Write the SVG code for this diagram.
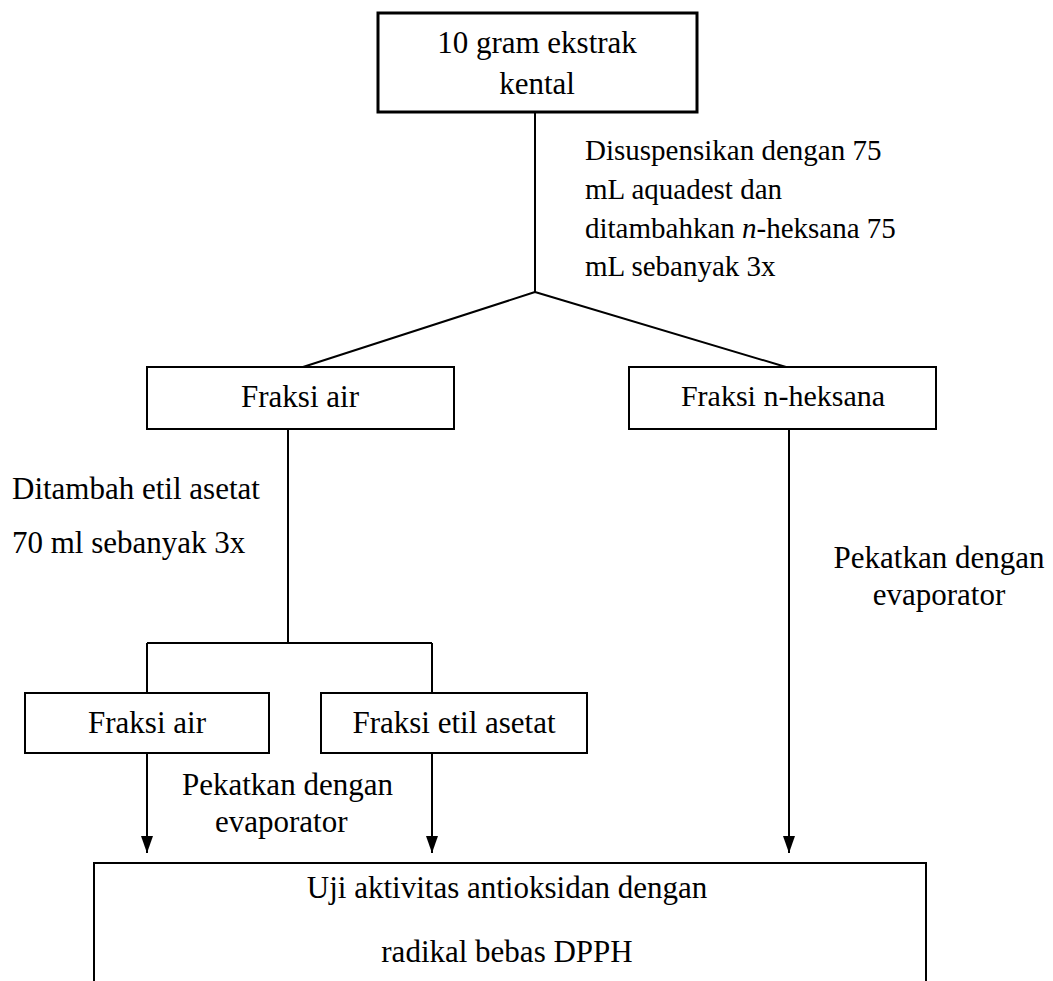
<svg xmlns="http://www.w3.org/2000/svg" width="1053" height="981" viewBox="0 0 1053 981">
<defs>
<style>
.box{fill:#fff;stroke:#000;stroke-width:2}
.t{font-family:"Liberation Serif","Times New Roman",serif;font-size:31px;fill:#000}
.s{font-family:"Liberation Serif","Times New Roman",serif;font-size:29px;fill:#000}
.m{text-anchor:middle}
.ln{fill:none;stroke:#000;stroke-width:2}
</style>
<marker id="arr" viewBox="0 0 17 12" refX="17" refY="6" markerWidth="17" markerHeight="12" markerUnits="userSpaceOnUse" orient="auto">
<path d="M0,0 L17,6 L0,12 Z" fill="#000"/>
</marker>
</defs>
<rect width="1053" height="981" fill="#fff"/>
<g id="connectors">
<path class="ln" d="M535,112 V292 M535,292 L303,367 M535,292 L786,367"/>
<path class="ln" d="M288,429 V643 M147,643 H432 M147,643 V693 M432,643 V693"/>
<line class="ln" x1="147" y1="753" x2="147" y2="853" marker-end="url(#arr)"/>
<line class="ln" x1="432" y1="753" x2="432" y2="853" marker-end="url(#arr)"/>
<line class="ln" x1="789" y1="429" x2="789" y2="853" marker-end="url(#arr)"/>
</g>
<g id="n-ekstrak">
<rect class="box" x="378" y="13" width="319" height="99" style="stroke-width:3"/>
<text class="t m" x="537" y="53">10 gram ekstrak</text>
<text class="t m" x="537" y="94">kental</text>
</g>
<g id="l-suspensi">
<text class="s" x="585" y="160">Disuspensikan dengan 75</text>
<text class="s" x="585" y="199">mL aquadest dan</text>
<text class="s" x="585" y="238">ditambahkan <tspan font-style="italic">n</tspan>-heksana 75</text>
<text class="s" x="585" y="276">mL sebanyak 3x</text>
</g>
<g id="n-fraksi-air">
<rect class="box" x="147" y="367" width="307" height="62"/>
<text class="t m" x="300" y="407">Fraksi air</text>
</g>
<g id="n-fraksi-heksana">
<rect class="box" x="629" y="367" width="307" height="62"/>
<text class="t m" x="783" y="406" style="font-size:30px">Fraksi n-heksana</text>
</g>
<g id="l-etil">
<text class="t" x="12" y="499">Ditambah etil asetat</text>
<text class="t" x="12" y="553">70 ml sebanyak 3x</text>
</g>
<g id="l-pekat-kanan">
<text class="t m" x="939" y="568">Pekatkan dengan</text>
<text class="t m" x="939" y="605">evaporator</text>
</g>
<g id="n-fraksi-air2">
<rect class="box" x="25" y="693" width="244" height="60"/>
<text class="t m" x="147" y="733">Fraksi air</text>
</g>
<g id="n-fraksi-etil">
<rect class="box" x="321" y="693" width="266" height="60"/>
<text class="t m" x="454" y="733">Fraksi etil asetat</text>
</g>
<g id="l-pekat-kiri">
<text class="t" x="182" y="795">Pekatkan dengan</text>
<text class="t" x="215" y="832">evaporator</text>
</g>
<g id="n-uji">
<rect class="box" x="94" y="863" width="832" height="140"/>
<text class="t m" x="507" y="898">Uji aktivitas antioksidan dengan</text>
<text class="t m" x="507" y="962">radikal bebas DPPH</text>
</g>
</svg>
